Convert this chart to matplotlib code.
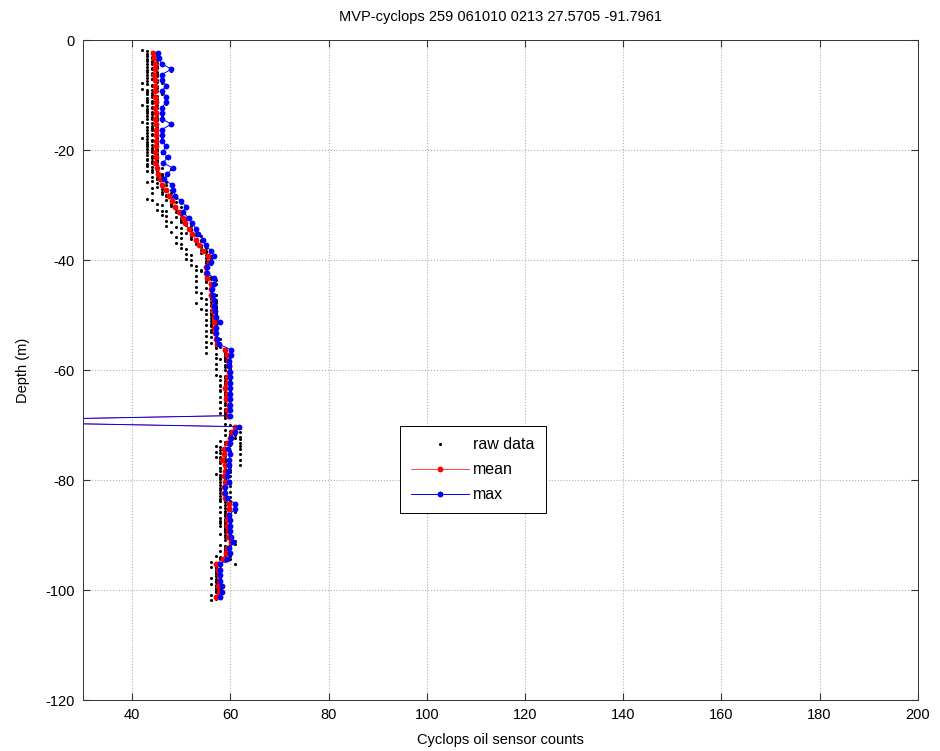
import numpy as np
import matplotlib
matplotlib.use("Agg")
import matplotlib.pyplot as plt

plt.rcParams['font.family'] = ['Liberation Sans', 'DejaVu Sans']
plt.rcParams['axes.unicode_minus'] = False

# bin depths (m), one per metre
depth = [-2.3, -3.3, -4.3, -5.3, -6.3, -7.3, -8.3, -9.3, -10.3, -11.3,
         -12.3, -13.3, -14.3, -15.3, -16.3, -17.3, -18.3, -19.3, -20.3, -21.3,
         -22.3, -23.3, -24.3, -25.3, -26.3, -27.3, -28.3, -29.3, -30.3, -31.3,
         -32.3, -33.3, -34.3, -35.3, -36.3, -37.3, -38.3, -39.3, -40.3, -41.3,
         -42.3, -43.3, -44.3, -45.3, -46.3, -47.3, -48.3, -49.3, -50.3, -51.3,
         -52.3, -53.3, -54.3, -55.3, -56.3, -57.3, -58.3, -59.3, -60.3, -61.3,
         -62.3, -63.3, -64.3, -65.3, -66.3, -67.3, -68.3, -69.3, -70.3, -71.3,
         -72.3, -73.3, -74.3, -75.3, -76.3, -77.3, -78.3, -79.3, -80.3, -81.3,
         -82.3, -83.3, -84.3, -85.3, -86.3, -87.3, -88.3, -89.3, -90.3, -91.3,
         -92.3, -93.3, -94.3, -95.3, -96.3, -97.3, -98.3, -99.3, -100.3, -101.3]

# mean counts per bin
mean_counts = [44.3, 44.5, 44.6, 44.6, 44.5, 44.6, 44.7, 44.6, 44.7, 44.8,
               44.7, 44.8, 44.7, 44.8, 44.8, 44.9, 44.8, 44.9, 44.7, 44.8,
               44.7, 45.0, 45.3, 45.6, 46.0, 47.0, 47.6, 48.2, 48.8, 49.6,
               50.3, 50.8, 51.5, 52.3, 53.0, 53.7, 54.4, 55.4, 55.6, 55.0,
               55.0, 55.3, 56.0, 56.0, 56.0, 56.4, 56.4, 56.5, 56.7, 56.7,
               56.7, 56.8, 57.0, 57.2, 59.0, 59.4, 59.5, 59.7, 59.8, 59.4,
               59.3, 59.0, 59.4, 59.2, 59.7, 59.4, 59.5, 0.0, 61.0, 60.4,
               59.9, 59.4, 58.7, 58.8, 58.4, 59.0, 58.9, 58.7, 59.0, 58.7,
               58.8, 58.9, 59.7, 59.7, 59.5, 59.4, 59.4, 59.5, 59.6, 60.1,
               59.4, 59.2, 58.5, 57.0, 57.4, 57.7, 57.6, 57.4, 57.7, 57.0]

# max counts per bin
max_counts = [45.2, 45.5, 46.0, 48.0, 46.0, 46.0, 47.0, 46.0, 47.0, 47.0,
              46.0, 46.0, 46.0, 48.0, 46.0, 46.0, 46.0, 47.0, 46.2, 47.3,
              46.3, 48.3, 47.2, 46.5, 48.1, 48.3, 48.8, 50.0, 51.0, 50.3,
              51.5, 52.3, 53.0, 53.5, 54.4, 55.0, 56.0, 56.7, 56.0, 55.3,
              55.2, 56.7, 56.7, 56.2, 56.4, 56.7, 56.7, 56.8, 57.0, 58.0,
              57.0, 57.0, 57.3, 57.7, 60.1, 60.1, 59.7, 59.8, 59.9, 60.0,
              60.0, 60.0, 60.0, 60.0, 60.0, 60.0, 60.0, 0.0, 61.8, 61.0,
              60.1, 60.0, 59.6, 60.0, 59.7, 59.7, 59.6, 59.4, 59.7, 59.0,
              59.0, 59.4, 60.9, 61.0, 59.8, 60.0, 60.0, 60.0, 60.1, 60.6,
              59.8, 60.0, 59.4, 58.0, 58.0, 58.0, 58.0, 58.4, 58.4, 58.0]

# raw sensor counts, samples inside each bin (top to bottom)
raw_counts = [
    [42, 43, 44, 45, 44, 43, 45], [43, 44, 45, 44, 43, 45, 44], [43, 44, 45, 43, 44, 46, 45],
    [43, 44, 45, 44, 43, 48, 45], [43, 44, 45, 43, 44, 45, 46], [43, 44, 44, 45, 43, 45, 46],
    [42, 43, 44, 45, 44, 47, 45], [42, 43, 44, 45, 43, 44, 46], [43, 44, 45, 44, 47, 43, 45],
    [43, 44, 45, 43, 44, 47, 45], [42, 43, 44, 45, 44, 43, 46], [43, 44, 45, 43, 44, 45, 46],
    [43, 44, 45, 44, 43, 45, 46], [42, 43, 44, 45, 48, 44, 45], [43, 44, 45, 43, 44, 45, 46],
    [43, 44, 45, 44, 43, 46, 45], [42, 43, 44, 45, 44, 43, 45], [43, 44, 45, 43, 47, 44, 45],
    [43, 44, 45, 44, 43, 46, 45], [43, 44, 45, 47, 44, 43, 45], [43, 44, 45, 44, 46, 43, 45],
    [43, 44, 45, 46, 48, 44, 45], [43, 44, 45, 46, 47, 45, 46], [44, 45, 46, 45, 46, 44, 47],
    [43, 45, 46, 47, 48, 46, 45], [44, 46, 47, 48, 47, 46, 48], [44, 46, 47, 48, 47, 48, 49],
    [43, 44, 47, 48, 49, 50, 48], [45, 46, 48, 49, 50, 51, 49], [45, 46, 47, 49, 50, 50, 50],
    [46, 47, 49, 50, 51, 51, 50], [47, 48, 50, 51, 52, 51, 52], [47, 49, 50, 52, 53, 52, 53],
    [48, 50, 51, 53, 53, 54, 52], [49, 50, 52, 53, 54, 54, 53], [49, 50, 53, 54, 55, 54, 55],
    [50, 51, 54, 55, 56, 55, 54], [51, 52, 55, 56, 56, 55, 56], [51, 52, 55, 56, 56, 55, 56],
    [52, 53, 55, 55, 55, 55, 54], [53, 54, 55, 55, 55, 55, 55], [53, 55, 56, 55, 56, 57, 55],
    [53, 55, 56, 57, 56, 56, 56], [53, 55, 56, 56, 56, 56, 56], [53, 54, 56, 56, 57, 56, 56],
    [54, 55, 56, 57, 57, 56, 57], [53, 55, 56, 57, 56, 57, 57], [54, 55, 56, 57, 57, 56, 57],
    [55, 56, 57, 57, 57, 56, 57], [55, 56, 57, 58, 57, 56, 57], [55, 56, 57, 57, 57, 57, 56],
    [55, 56, 57, 57, 57, 57, 57], [55, 56, 57, 57, 58, 57, 57], [55, 56, 57, 58, 57, 57, 58],
    [55, 57, 59, 60, 59, 60, 59], [55, 57, 59, 60, 59, 60, 59], [57, 58, 59, 60, 59, 60, 60],
    [57, 59, 60, 60, 59, 60, 60], [57, 59, 60, 60, 60, 60, 60], [57, 58, 59, 60, 59, 60, 60],
    [58, 59, 60, 59, 60, 59, 58], [58, 59, 59, 60, 59, 58, 60], [58, 59, 60, 59, 60, 59, 60],
    [58, 59, 60, 59, 59, 60, 58], [58, 59, 60, 60, 59, 60, 60], [58, 59, 60, 59, 60, 59, 59],
    [58, 59, 60, 60, 59, 60, 59], [], [59, 60, 61, 62, 61, 62, 61],
    [59, 60, 61, 62, 61, 60, 61], [59, 60, 62, 60, 61, 62, 60], [58, 59, 60, 62, 59, 60, 62],
    [57, 58, 59, 62, 59, 58, 60], [57, 58, 59, 62, 60, 59, 58], [57, 58, 59, 62, 59, 58, 59],
    [58, 59, 60, 62, 59, 60, 58], [58, 59, 60, 58, 59, 60, 59], [57, 58, 59, 60, 58, 59, 59],
    [58, 59, 60, 59, 58, 60, 59], [58, 59, 60, 59, 58, 59, 59], [58, 59, 60, 58, 59, 59, 59],
    [58, 59, 60, 59, 58, 59, 60], [58, 59, 60, 61, 60, 59, 61], [58, 59, 60, 61, 60, 59, 61],
    [58, 59, 60, 59, 60, 59, 60], [58, 59, 60, 59, 58, 59, 60], [58, 59, 60, 59, 58, 60, 59],
    [59, 60, 59, 60, 59, 60, 60], [58, 59, 60, 59, 60, 60, 60], [59, 60, 61, 60, 60, 61, 60],
    [58, 59, 60, 59, 60, 59, 59], [58, 59, 60, 59, 60, 59, 60], [57, 58, 59, 60, 58, 59, 59],
    [56, 57, 58, 61, 57, 58, 57], [56, 57, 58, 57, 58, 57, 58], [57, 58, 57, 58, 57, 58, 58],
    [56, 57, 58, 57, 58, 57, 58], [56, 57, 58, 57, 58, 57, 58], [57, 58, 57, 58, 57, 58, 58],
    [56, 57, 58, 57, 58, 57, 56],
]

title = "MVP-cyclops 259 061010 0213 27.5705 -91.7961"

# flatten raw samples: spread them evenly over their 1 m bin
raw_x = []
raw_y = []
for d, vals in zip(depth, raw_counts):
    n = len(vals)
    for j, v in enumerate(vals):
        raw_x.append(v)
        raw_y.append(d + 0.5 - (j + 0.5) / n)

fig = plt.figure(figsize=(9.4, 7.51), dpi=100)
ax = fig.add_axes([0.0883, 0.0679, 0.888, 0.8788])

ax.plot(raw_x, raw_y, 'k.', markersize=2.4, label='raw data')
ax.plot(mean_counts, depth, '-', color='red', lw=0.5, marker='o',
        markersize=4.2, markeredgewidth=0, label='mean')
ax.plot(max_counts, depth, '-', color='blue', lw=0.7, marker='o',
        markersize=4.2, markeredgewidth=0, label='max')

ax.set_xlim(30, 200)
ax.set_ylim(-120, 0)
ax.set_xticks(range(40, 201, 20))
ax.set_yticks(range(-120, 1, 20))
ax.grid(True, linestyle=':', color='#b0b0b0', lw=0.8)
ax.tick_params(direction='in', top=True, right=True, length=5, pad=6,
               labelsize=10.5, color='#333333')
for s in ax.spines.values():
    s.set_color('#333333')
    s.set_linewidth(0.7)

ax.set_title(title, fontsize=10.5, pad=14)
ax.set_xlabel("Cyclops oil sensor counts", fontsize=10.5, labelpad=8)
ax.set_ylabel("Depth (m)", fontsize=10.5, labelpad=11)

leg = ax.legend(loc='upper left', bbox_to_anchor=(0.3796, 0.415),
                fontsize=11.5, fancybox=False, handlelength=3.6,
                handletextpad=0.3, borderpad=0.7, labelspacing=0.62,
                borderaxespad=0, framealpha=1)
leg.get_frame().set_edgecolor('black')
leg.get_frame().set_linewidth(0.7)

fig.savefig("out.png", dpi=100)
